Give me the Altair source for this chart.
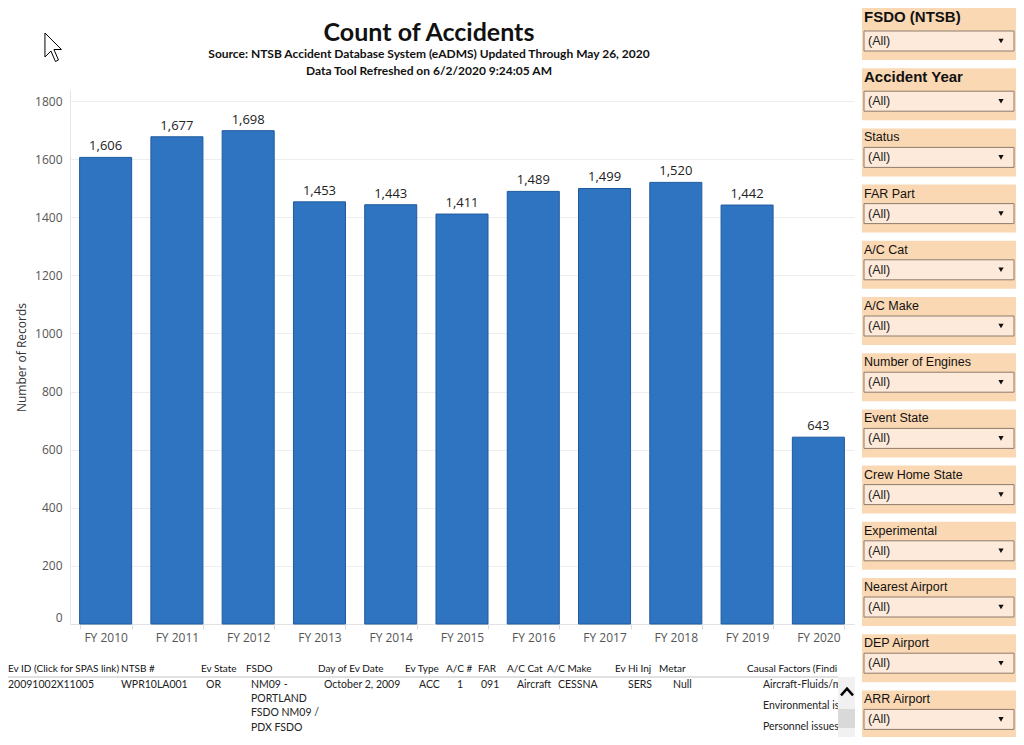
import altair as alt
import pandas as pd

# ---------------- data ----------------
years = ["FY 2010", "FY 2011", "FY 2012", "FY 2013", "FY 2014", "FY 2015",
         "FY 2016", "FY 2017", "FY 2018", "FY 2019", "FY 2020"]
counts = [1606, 1677, 1698, 1453, 1443, 1411, 1489, 1499, 1520, 1442, 643]
y_ticks = [0, 200, 400, 600, 800, 1000, 1200, 1400, 1600, 1800]

title_text = "Count of Accidents"
subtitle_lines = ["Source: NTSB Accident Database System (eADMS) Updated Through May 26, 2020",
                  "Data Tool Refreshed on 6/2/2020 9:24:05 AM"]

filter_names = ["FSDO (NTSB)", "Accident Year", "Status", "FAR Part", "A/C Cat", "A/C Make",
                "Number of Engines", "Event State", "Crew Home State", "Experimental",
                "Nearest Airport", "DEP Airport", "ARR Airport"]
filter_bold = [True, True, False, False, False, False, False, False, False, False, False, False, False]
filter_values = ["(All)"] * 13

table_headers = ["Ev ID (Click for SPAS link)", "NTSB #", "Ev State", "FSDO", "Day of Ev Date",
                 "Ev Type", "A/C #", "FAR", "A/C Cat", "A/C Make", "Ev Hi Inj", "Metar",
                 "Causal Factors (Findi"]
table_row = ["20091002X11005", "WPR10LA001", "OR", "NM09 -\nPORTLAND\nFSDO NM09 /\nPDX FSDO",
             "October 2, 2009", "ACC", "1", "091", "Aircraft", "CESSNA", "SERS", "Null",
             "Aircraft-Fluids/m\nEnvironmental is\nPersonnel issues-"]

# ---------------- layout ----------------
AXF = "Open Sans"
TF = "Lato"
PF = "Liberation Sans"

PLOT_W, PLOT_H = 784, 534
PAD = {"left": 62, "top": 82, "right": 162, "bottom": 113}
ORX, ORY = 8 + PAD["left"], 8 + PAD["top"]

SX = alt.Scale(domain=[0, 1000], range=[-ORX, 1000 - ORX], nice=False, zero=False)
SY = alt.Scale(domain=[0, 1000], range=[-ORY, 1000 - ORY], nice=False, zero=False)


def X(f="px"):
    return alt.X(f"{f}:Q", scale=SX, axis=None)


def Y(f="py"):
    return alt.Y(f"{f}:Q", scale=SY, axis=None)


# ---------------- main bar chart ----------------
bar_df = pd.DataFrame({"year": years, "count": counts})

xenc = alt.X("year:N", sort=years,
             scale=alt.Scale(paddingInner=0.27, paddingOuter=0.135),
             axis=alt.Axis(title=None, labelAngle=0, labelFont=AXF, labelFontSize=12,
                           labelColor="#555555", labelPadding=3, domainColor="#e2e2e2",
                           tickColor="#dadada", tickSize=5, tickBand="extent"))
yenc = alt.Y("count:Q", scale=alt.Scale(domain=[0, 1838], nice=False, zero=True),
             axis=alt.Axis(values=y_ticks, format="d", title="Number of Records", titleFont=AXF,
                           titleFontSize=12, titleFontWeight="normal", titleColor="#333333",
                           titlePadding=6, labelFont=AXF, labelFontSize=12, labelColor="#555555",
                           labelPadding=8, ticks=False, grid=True, gridColor="#eeeeee",
                           domainColor="#e4e4e4", labelFlush=True))

bars = alt.Chart(bar_df).mark_bar(color="#2f74c1", stroke="#1f5a9e", strokeWidth=1).encode(
    x=xenc, y=yenc)
bar_labels = alt.Chart(bar_df).mark_text(font=AXF, fontSize=13, color="#222222",
                                         baseline="alphabetic", dy=-7).encode(
    x=alt.X("year:N", sort=years), y="count:Q", text=alt.Text("count:Q", format=","))
main = alt.layer(bars, bar_labels)

# ---------------- filter panel ----------------
prow = []
top = 8.0
for name, bold, val in zip(filter_names, filter_bold, filter_values):
    h = 52 if bold else 48
    bt = top + (23 if bold else 19)
    prow.append(dict(name=name, bold=bold, val=val, px=862, px2=1020, py=top, py2=top + h,
                     lx=864, ly=top + 9, bx=864, bx2=1014, by=bt, by2=bt + 20,
                     vx=868, ax=1001, ay=bt + 10))
    top += h + 8.2
pdf = pd.DataFrame(prow)

blocks = alt.Chart(pdf).mark_rect(fill="#fbd8b4").encode(x=X("px"), x2="px2:Q", y=Y("py"), y2="py2:Q")
boxes = alt.Chart(pdf).mark_rect(fill="#fdeada", stroke="#8e7c6c", strokeWidth=1).encode(
    x=X("bx"), x2="bx2:Q", y=Y("by"), y2="by2:Q")
lab_bold = alt.Chart(pdf).transform_filter("datum.bold").mark_text(
    font=PF, fontSize=15, fontWeight="bold", align="left", baseline="middle", color="#111111").encode(
    x=X("lx"), y=Y("ly"), text="name:N")
lab_norm = alt.Chart(pdf).transform_filter("!datum.bold").mark_text(
    font=PF, fontSize=12.5, align="left", baseline="middle", color="#111111").encode(
    x=X("lx"), y=Y("ly"), text="name:N")
vals = alt.Chart(pdf).mark_text(font=PF, fontSize=12.5, align="left", baseline="middle",
                                color="#222222").encode(x=X("vx"), y=Y("ay"), text="val:N")
arrows = alt.Chart(pdf).mark_point(shape="triangle-down", filled=True, size=28, color="#111111",
                                   opacity=1).encode(x=X("ax"), y=Y("ay"))

# ---------------- title ----------------
tdf = pd.DataFrame({"txt": [title_text], "px": [429], "py": [33]})
sdf = pd.DataFrame({"txt": subtitle_lines, "px": [429, 429], "py": [54, 71]})
title_m = alt.Chart(tdf).mark_text(font=TF, fontSize=25, fontWeight="bold", color="#111111",
                                   align="center", baseline="middle").encode(
    x=X(), y=Y(), text="txt:N")
sub_m = alt.Chart(sdf).mark_text(font=TF, fontSize=12, fontWeight="bold", color="#111111",
                                 align="center", baseline="middle").encode(
    x=X(), y=Y(), text="txt:N")

# cursor
cdf = pd.DataFrame({"px": [53.2], "py": [48]})
cursor = alt.Chart(cdf).mark_point(
    shape="M-0.55,-1L-0.55,0.6L-0.15,0.2L0.15,0.9L0.35,0.8L0.05,0.1L0.55,0.1Z",
    size=900, filled=True, fill="white", stroke="black", strokeWidth=1, opacity=1).encode(
    x=X(), y=Y())

# ---------------- table ----------------
header_x = [8, 121, 201, 246, 318, 405, 446, 478, 507, 547, 615, 659, 747]
row_x = [8, 121, 206, 251, 324, 419, 457, 481, 517, 558, 628, 673, 763]
hdf = pd.DataFrame({"txt": table_headers, "px": header_x, "py": [669] * len(table_headers)})
cells = []
for i, (val, x0) in enumerate(zip(table_row, row_x)):
    lines = val.split("\n")
    lh = 21 if i == len(table_row) - 1 else 14.4
    for j, ln in enumerate(lines):
        cells.append(dict(txt=ln, px=x0, py=684.5 + j * lh))
rdf = pd.DataFrame(cells)
thead = alt.Chart(hdf).mark_text(font=TF, fontSize=10, align="left",
                                 baseline="middle", color="#111111").encode(
    x=X(), y=Y(), text="txt:N")
tcells = alt.Chart(rdf).mark_text(font=TF, fontSize=10.5, align="left", baseline="middle",
                                  color="#222222").encode(x=X(), y=Y(), text="txt:N")
ldf = pd.DataFrame({"px": [8], "px2": [838], "py": [677]})
tline = alt.Chart(ldf).mark_rule(color="#c4c4c4", strokeWidth=1).encode(x=X(), x2="px2:Q", y=Y())
sdf2 = pd.DataFrame({"px": [838, 838], "px2": [855, 855], "py": [677, 709], "py2": [737, 728],
                     "fill": ["#f1f1f1", "#d9d9d9"]})
scroll = alt.Chart(sdf2).mark_rect().encode(x=X(), x2="px2:Q", y=Y(), y2="py2:Q",
                                            fill=alt.Fill("fill:N", scale=None))
kdf = pd.DataFrame({"px": [847], "py": [692]})
caret = alt.Chart(kdf).mark_point(shape="M-1,0.55L0,-0.55L1,0.55", size=144, filled=False,
                                  stroke="black", strokeWidth=2.5, opacity=1).encode(x=X(), y=Y())

chrome = alt.layer(blocks, boxes, lab_bold, lab_norm, vals, arrows, title_m, sub_m, cursor,
                   thead, tcells, tline, scroll, caret)

chart = alt.layer(main, chrome).resolve_scale(x="independent", y="independent").properties(
    width=PLOT_W, height=PLOT_H,
    autosize=alt.AutoSizeParams(type="none"),
    padding=PAD,
    background="white",
).configure_view(strokeWidth=0)

chart.save("out.html", embed_options={"renderer": "svg", "actions": False})
